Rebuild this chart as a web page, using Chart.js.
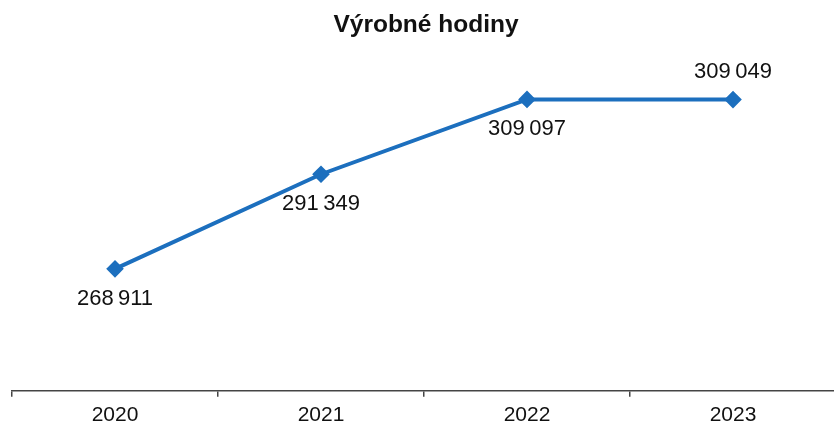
<!DOCTYPE html>
<html>
<head>
<meta charset="utf-8">
<script src="https://cdn.jsdelivr.net/npm/chart.js@4"></script>
<style>
  html, body { margin: 0; padding: 0; background: #fff; overflow: hidden; }
  #wrap { width: 846px; height: 434px; }
</style>
</head>
<body>
<div id="wrap"><canvas id="chart"></canvas></div>
<script>
const years = ["2020", "2021", "2022", "2023"];
const hours = [268911, 291349, 309097, 309049];
const labelPos = ["below", "below", "below", "above"];

const lineColor = "#1c6fbe";

function fmt(v) {
  return String(v).replace(/\B(?=(\d{3})+(?!\d))/g, "\u2009");
}

// simple value labels next to each point
const valueLabels = {
  id: "valueLabels",
  afterDatasetsDraw(chart) {
    const ctx = chart.ctx;
    const meta = chart.getDatasetMeta(0);
    ctx.save();
    ctx.font = "22px 'Liberation Sans', Arial, sans-serif";
    ctx.fillStyle = "#111";
    ctx.textAlign = "center";
    ctx.textBaseline = "middle";
    meta.data.forEach((pt, i) => {
      const dy = labelPos[i] === "above" ? -28 : 30;
      ctx.fillText(fmt(hours[i]), pt.x, pt.y + dy);
    });
    ctx.restore();
  }
};

new Chart(document.getElementById("chart"), {
  type: "line",
  data: {
    labels: years,
    datasets: [{
      data: hours,
      borderColor: lineColor,
      backgroundColor: lineColor,
      borderWidth: 4,
      pointStyle: "rectRot",
      pointRadius: 6,
      pointHoverRadius: 6,
      tension: 0
    }]
  },
  options: {
    responsive: true,
    maintainAspectRatio: false,
    animation: false,
    layout: { padding: { left: 12, right: 6, top: 0, bottom: 0 } },
    plugins: {
      legend: { display: false },
      tooltip: { enabled: false },
      title: {
        display: true,
        text: "Výrobné hodiny",
        color: "#111",
        font: { family: "'Liberation Sans', Arial, sans-serif", size: 24.5, weight: "bold" },
        padding: { top: 11, bottom: 13 }
      }
    },
    scales: {
      x: {
        offset: true,
        grid: { display: true, drawOnChartArea: false, offset: true, tickLength: 6, color: "#444", lineWidth: 1.5 },
        border: { color: "#444", width: 1.5 },
        ticks: {
          color: "#111",
          padding: 6,
          font: { family: "'Liberation Sans', Arial, sans-serif", size: 21 }
        }
      },
      y: {
        display: false,
        min: 240000,
        max: 320000
      }
    }
  },
  plugins: [valueLabels]
});
</script>
</body>
</html>
